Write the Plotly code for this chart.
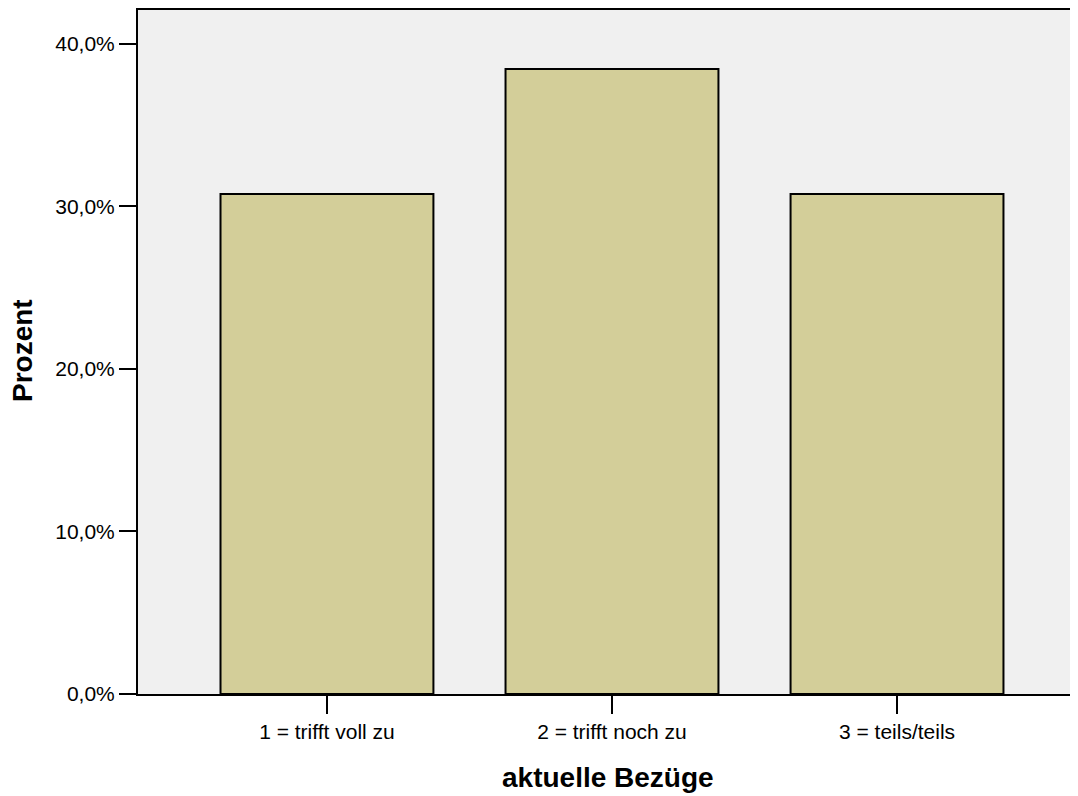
import plotly.graph_objects as go

categories = ["1 = trifft voll zu", "2 = trifft noch zu", "3 = teils/teils"]
percent = [30.77, 38.46, 30.77]
y_ticks = [0, 10, 20, 30, 40]
y_tick_labels = ["0,0%", "10,0%", "20,0%", "30,0%", "40,0%"]

x_pos = list(range(len(categories)))

fig = go.Figure()
fig.add_trace(go.Bar(
    x=x_pos, y=percent, width=0.747,
    marker=dict(color="#D3CE99", line=dict(color="black", width=2)),
    hoverinfo="skip",
))

font_family = "Liberation Sans, Arial, sans-serif"

fig.update_layout(
    width=1070, height=788,
    margin=dict(l=130, r=0, t=2, b=102),
    paper_bgcolor="white",
    plot_bgcolor="#F0F0F0",
    showlegend=False,
    font=dict(family=font_family, size=21, color="black"),
    xaxis=dict(
        range=[-0.663, 2.635],
        tickvals=x_pos, ticktext=categories,
        ticks="outside", ticklen=18, tickwidth=2, tickcolor="black",
        showline=True, linecolor="black", linewidth=2, mirror=True,
        showgrid=False, zeroline=False,
        tickfont=dict(size=21),
    ),
    yaxis=dict(
        range=[0, 42.09],
        tickvals=y_ticks, ticktext=y_tick_labels,
        ticks="outside", ticklen=17, tickwidth=2, tickcolor="black",
        showline=True, linecolor="black", linewidth=2,
        showgrid=False, zeroline=False,
        tickfont=dict(size=21),
    ),
    annotations=[
        dict(text="<b>aktuelle Bezüge</b>", xref="paper", yref="paper",
             x=0.5, y=-0.1228, xanchor="center", yanchor="middle",
             showarrow=False, font=dict(size=28, family=font_family)),
        dict(text="<b>Prozent</b>", xref="paper", yref="paper",
             x=-0.1223, y=0.5015, xanchor="center", yanchor="middle", textangle=-90,
             showarrow=False, font=dict(size=28, family=font_family)),
    ],
)

fig.write_html("out.html")
